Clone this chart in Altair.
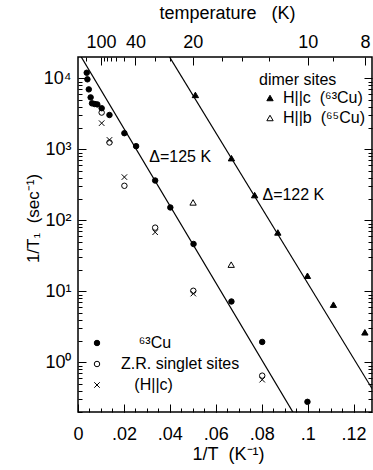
import altair as alt
import pandas as pd

NB = "\u00a0"
ZW = "\u200b"
FONT = "Liberation Sans"

# 1/T (K^-1) and 1/T1 (s^-1) on the Zhang-Rice singlet sites
cu63_inv_t = [0.0038, 0.0041, 0.0047, 0.0055, 0.0061, 0.0073, 0.0084, 0.0103,
              0.0137, 0.0202, 0.0253, 0.0336, 0.0402, 0.0503, 0.0668, 0.0802, 0.0999]
cu63_rate = [12000, 9700, 7000, 5400, 4450, 4350, 4300, 3800,
             3050, 1690, 1110, 364, 152, 46.5, 7.2, 1.94, 0.278]
zr_inv_t = [0.0103, 0.0137, 0.0202, 0.0336, 0.0502, 0.0802]
zr_rate = [3300, 1250, 307, 79, 10.2, 0.65]
hc_inv_t = [0.0103, 0.0137, 0.0202, 0.0336, 0.0502, 0.0802]
hc_rate = [2340, 1360, 407, 68, 9.3, 0.57]

# dimer sites
dimer_c_inv_t = [0.0511, 0.0668, 0.0769, 0.0870, 0.0999, 0.1112, 0.1249]
dimer_c_rate = [5850, 752, 227, 67.6, 16.6, 6.5, 2.65]
dimer_b_inv_t = [0.0501, 0.0667]
dimer_b_rate = [179, 23.8]

# activated fits 1/T1 = A exp(-Delta / T)
fit_gaps = [125, 122]
fit_prefactors = [2.39e4, 2.59e6]
fit_span = [0.0, 0.128]

# axis ticks
inv_t_major = [0, 0.02, 0.04, 0.06, 0.08, 0.10, 0.12]
inv_t_minor = [round(i * 0.005, 3) for i in range(26)]
temp_major = [100, 40, 20, 10, 8]
temp_minor = [300, 90, 80, 70, 60, 50, 30, 25, 16, 14, 12, 9]
rate_major = [1, 10, 100, 1000, 10000]
rate_minor = [m * 10.0 ** e for e in range(-1, 5) for m in range(2, 10)
              if 0.2 <= m * 10.0 ** e < 2e4]

zr_df = pd.concat([
    pd.DataFrame({"inv_t": cu63_inv_t, "rate": cu63_rate, "series": "cu63"}),
    pd.DataFrame({"inv_t": zr_inv_t, "rate": zr_rate, "series": "zr"}),
    pd.DataFrame({"inv_t": hc_inv_t, "rate": hc_rate, "series": "hc"}),
], ignore_index=True)

dimer_df = pd.concat([
    pd.DataFrame({"inv_t": dimer_c_inv_t, "rate": dimer_c_rate, "series": "c"}),
    pd.DataFrame({"inv_t": dimer_b_inv_t, "rate": dimer_b_rate, "series": "b"}),
], ignore_index=True)

fit_df = pd.DataFrame([
    {"fit": g, "A": a, "inv_t": x}
    for g, a in zip(fit_gaps, fit_prefactors) for x in fit_span
])

annot_df = pd.DataFrame({
    "label": [f"Δ={g} K" for g in fit_gaps],
    "inv_t": [0.031, 0.0803],
    "rate": [785, 229],
})

x_scale = alt.Scale(domain=[0, 0.128], nice=False, zero=False)
y_scale = alt.Scale(type="log", domain=[0.2, 20000], nice=False)

MAJ, MIN = 8, 4


def minor_axis(orient, values):
    return alt.Axis(orient=orient, values=values, tickSize=MIN, offset=-MIN,
                    labels=False, domain=False, title=None, grid=False)


ax_bottom = alt.Axis(
    orient="bottom", values=inv_t_major, tickSize=MAJ, offset=-MAJ, domain=False,
    labelExpr="datum.value == 0 ? '0' : replace(format(datum.value, '~g'), '0.', '.')",
    labelPadding=13, labelFlush=False, labelOverlap=False,
    title=f"1/T{NB}{NB}(K⁻¹)", titleX=150, titleY=50, titleBaseline="middle",
)
ax_top = alt.Axis(
    orient="top", values=[1.0 / t for t in temp_major], tickSize=MAJ, offset=-MAJ,
    domain=False, labelExpr="format(1 / datum.value, '.0f')",
    labelPadding=6, labelFlush=False, labelOverlap=False,
    title=f"temperature{NB}{NB}{NB}(K)", titleX=149, titleY=-52, titleBaseline="middle",
)
ax_left = alt.Axis(
    orient="left", values=rate_major, tickSize=MAJ, offset=-MAJ, domain=False,
    labelExpr="'10' + ['⁰','¹','²','³','⁴'][round(log(datum.value) / LN10)]",
    labelPadding=7, labelOverlap=False,
    title=f"1/T₁{NB}{NB}(sec⁻¹)", titleX=-53, titleY=161, titleAngle=270,
    titleBaseline="middle", titleAlign="center", titleFontSize=17,
)
ax_right = alt.Axis(orient="right", values=rate_major, tickSize=MAJ, offset=-MAJ,
                    labels=False, domain=False, title=None)

x_enc = lambda ax: alt.X("inv_t:Q", scale=x_scale, axis=ax)
y_enc = lambda ax: alt.Y("rate:Q", scale=y_scale, axis=ax)

fit_base = alt.Chart(fit_df).transform_calculate(
    rate="datum.A * exp(-datum.fit * datum.inv_t)"
)
fit125 = fit_base.transform_filter("datum.fit == 125").mark_line(
    clip=True, color="black", strokeWidth=1.2
).encode(x=x_enc(ax_bottom), y=y_enc(ax_left))
fit122 = fit_base.transform_filter("datum.fit == 122").mark_line(
    clip=True, color="black", strokeWidth=1.2
).encode(x=x_enc(minor_axis("bottom", inv_t_minor)), y=y_enc(minor_axis("left", rate_minor)))


def symbol_channels(field_domain, shapes, fills, legend):
    return dict(
        shape=alt.Shape("series:N", scale=alt.Scale(domain=field_domain, range=shapes),
                        legend=legend),
        fill=alt.Fill("series:N", scale=alt.Scale(domain=field_domain, range=fills),
                      legend=legend),
        stroke=alt.Stroke("series:N", scale=alt.Scale(
            domain=field_domain, range=["black"] * len(field_domain)), legend=legend),
    )


zr_legend = alt.Legend(
    orient="none", legendX=11, legendY=278, title=None, padding=0,
    symbolSize=30, symbolStrokeWidth=1,
    labelFont=FONT, labelFontSize=16, labelColor="black", labelOffset=16, rowPadding=5,
    labelExpr=(f"datum.label == 'cu63' ? '{ZW}{NB * 4}⁶³Cu' : "
               f"datum.label == 'zr' ? 'Z.R. singlet sites' : '{ZW}{NB * 3}(H||c)'"),
)
zr_dom = ["cu63", "zr", "hc"]
zr_pts = alt.Chart(zr_df).mark_point(size=30, strokeWidth=1, opacity=1).encode(
    x=x_enc(ax_top), y=y_enc(ax_right),
    **symbol_channels(zr_dom, ["circle", "circle", "M-1,-1L1,1M-1,1L1,-1"],
                      ["black", "transparent", "transparent"], zr_legend),
)

dimer_legend = alt.Legend(
    orient="none", legendX=181, legendY=15, title="dimer sites", padding=0,
    titleFont=FONT, titleFontSize=16, titleFontWeight="normal", titleColor="black",
    titlePadding=2, symbolSize=40, symbolStrokeWidth=1,
    symbolOffset=3, labelFont=FONT, labelFontSize=16, labelColor="black",
    labelOffset=5, rowPadding=4,
    labelExpr=(f"datum.label == 'c' ? 'H||c{NB * 2}(⁶³Cu)' : 'H||b{NB * 2}(⁶⁵Cu)'"),
)
dimer_dom = ["c", "b"]
dimer_pts = alt.Chart(dimer_df).mark_point(size=40, strokeWidth=1, opacity=1).encode(
    x=x_enc(minor_axis("top", [1.0 / t for t in temp_minor])),
    y=y_enc(minor_axis("right", rate_minor)),
    **symbol_channels(dimer_dom, ["triangle-up", "triangle-up"],
                      ["black", "transparent"], dimer_legend),
)

annot = alt.Chart(annot_df).mark_text(
    align="left", baseline="middle", font=FONT, fontSize=16, color="black"
).encode(x=x_enc(None), y=y_enc(None), text="label:N")

chart = alt.layer(fit125, fit122, zr_pts, dimer_pts, annot).resolve_scale(
    shape="independent", fill="independent", stroke="independent"
).resolve_axis(
    x="independent", y="independent"
).properties(
    width=294, height=355,
    autosize=alt.AutoSizeParams(type="none"),
    padding={"left": 78, "top": 57, "right": 1, "bottom": 58},
    background="white",
).configure_view(
    stroke="black", strokeWidth=1.5
).configure_axis(
    labelFont=FONT, labelFontSize=18, labelColor="black",
    titleFont=FONT, titleFontSize=18, titleFontWeight="normal", titleColor="black",
    tickColor="black", tickWidth=1, grid=False,
)

chart.save("out.html", embed_options={"renderer": "svg", "actions": False})
